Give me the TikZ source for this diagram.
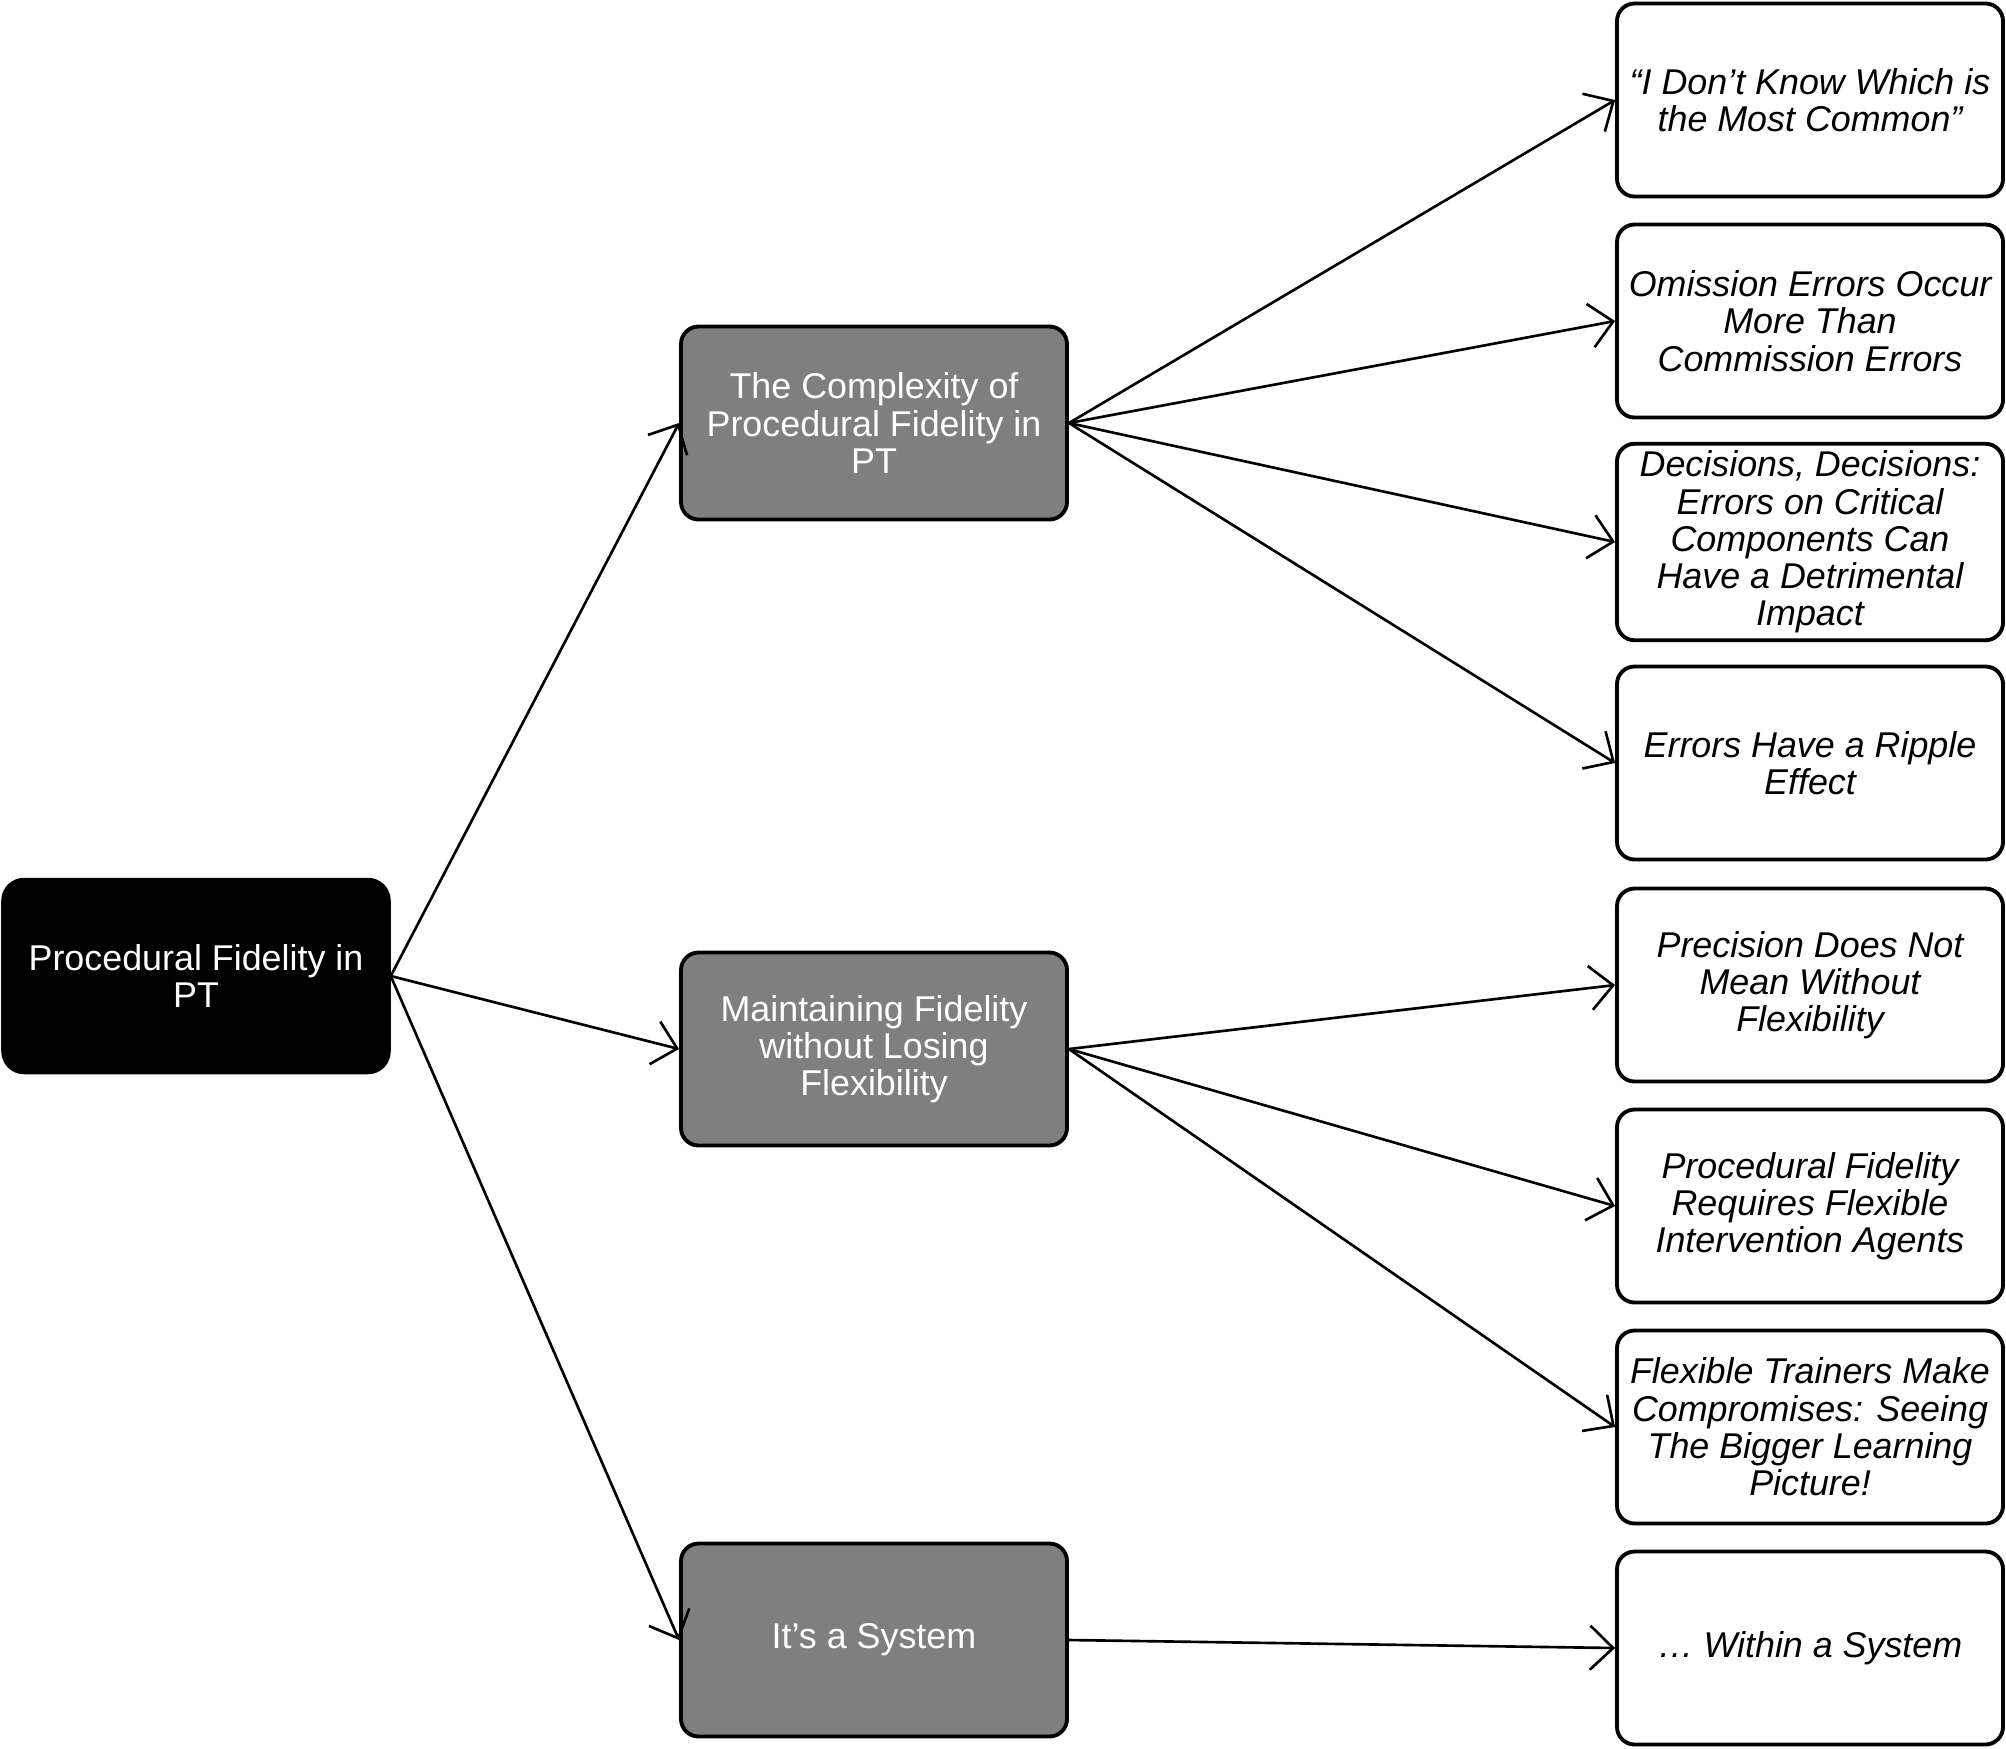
\documentclass[tikz,border=0pt]{standalone}
\usepackage{fontspec}
\setmainfont{Liberation Sans}
\usepackage{tikz}
\usepackage{xcolor}
\usetikzlibrary{arrows.meta,positioning}
\definecolor{ink}{HTML}{000000}
\definecolor{midgray}{HTML}{7F7F7F}
\tikzset{
  rootcard/.style={draw=ink,fill=ink,text=white,line width=1pt,rounded corners=6pt,
                   minimum width=3.86cm,minimum height=1.93cm,align=center,
                   inner sep=2pt,font=\fontsize{10.2}{10.6}\selectfont},
  themecard/.style={draw=ink,fill=midgray,text=white,line width=1.1pt,rounded corners=5pt,
                    minimum width=3.86cm,minimum height=1.93cm,align=center,
                    inner sep=2pt,font=\fontsize{10.2}{10.6}\selectfont},
  subcard/.style={draw=ink,fill=white,text=ink,line width=1.1pt,rounded corners=5pt,
                  minimum width=3.86cm,minimum height=1.93cm,align=center,
                  inner sep=2pt,font=\fontsize{10.2}{10.6}\selectfont\itshape},
  linkarr/.style={-{Straight Barb[length=2.3mm,width=4.4mm]},line width=0.75pt,draw=ink}
}
\begin{document}
\begin{tikzpicture}[x=1cm,y=1cm]
    \path[use as bounding box,fill=white] (0,0) rectangle (20.06,-17.48);

    \node[rootcard] (root) at (1.96,-9.76)
      {Procedural Fidelity in\\PT};

    \node[themecard] (complex) at (8.74,-4.23)
      {The Complexity of\\Procedural Fidelity in\\PT};
    \node[themecard] (flex) at (8.74,-10.49)
      {Maintaining Fidelity\\without Losing\\Flexibility};
    \node[themecard] (system) at (8.74,-16.40)
      {It’s a System};

    \node[subcard] (common) at (18.10,-1.00)
      {“I Don’t Know Which is\\the Most Common”};
    \node[subcard] (omission) at (18.10,-3.21)
      {Omission Errors Occur\\More Than\\Commission Errors};
    \node[subcard] (decide) at (18.10,-5.42)
      {Decisions, Decisions:\\Errors on Critical\\Components Can\\Have a Detrimental\\Impact};
    \node[subcard] (ripple) at (18.10,-7.63)
      {Errors Have a Ripple\\Effect};
    \node[subcard] (precise) at (18.10,-9.85)
      {Precision Does Not\\Mean Without\\Flexibility};
    \node[subcard] (agents) at (18.10,-12.06)
      {Procedural Fidelity\\Requires Flexible\\Intervention Agents};
    \node[subcard] (trainers) at (18.10,-14.27)
      {Flexible Trainers Make\\Compromises: Seeing\\The Bigger Learning\\Picture!};
    \node[subcard] (within) at (18.10,-16.48)
      {… Within a System};

    \draw[linkarr] (root.east) -- (complex.west);
    \draw[linkarr] (root.east) -- (flex.west);
    \draw[linkarr] (root.east) -- (system.west);

    \draw[linkarr] (complex.east) -- (common.west);
    \draw[linkarr] (complex.east) -- (omission.west);
    \draw[linkarr] (complex.east) -- (decide.west);
    \draw[linkarr] (complex.east) -- (ripple.west);

    \draw[linkarr] (flex.east) -- (precise.west);
    \draw[linkarr] (flex.east) -- (agents.west);
    \draw[linkarr] (flex.east) -- (trainers.west);

    \draw[linkarr] (system.east) -- (within.west);
  \end{tikzpicture}
\end{document}
